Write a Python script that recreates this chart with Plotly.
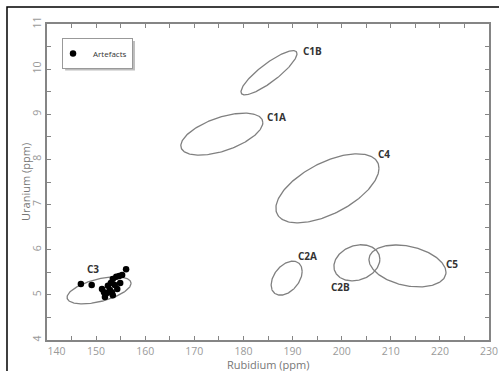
import numpy as np
import plotly.graph_objects as go

# Artefact measurements (Rb ppm, U ppm)
art_rb = [146.9, 149.1, 156.1, 151.2, 151.8, 152.2, 152.4, 152.8, 153.0, 153.2,
          153.4, 153.8, 154.1, 154.3, 154.7, 154.9, 155.3, 151.6, 153.4]
art_u = [5.24, 5.22, 5.57, 5.13, 4.95, 5.04, 5.20, 5.11, 5.26, 5.06,
         5.35, 5.22, 5.40, 5.13, 5.42, 5.26, 5.44, 5.06, 4.99]

# Source group ellipses: centre, half-ranges, correlation
groups = ["C1B", "C1A", "C4", "C2A", "C2B", "C5", "C3"]
grp_rb = [185.2, 175.6, 197.1, 188.8, 203.1, 213.4, 150.6]
grp_u = [9.92, 8.56, 7.36, 5.37, 5.71, 5.64, 5.10]
grp_rb_half = [5.7, 8.35, 10.5, 3.16, 4.68, 7.84, 6.52]
grp_u_half = [0.49, 0.465, 0.764, 0.377, 0.40, 0.465, 0.30]
grp_rho = [0.86, 0.55, 0.58, 0.40, 0.20, -0.30, 0.52]
label_rb = [194.0, 186.8, 208.6, 193.0, 199.7, 222.5, 149.4]
label_u = [10.40, 8.94, 8.12, 5.86, 5.17, 5.68, 5.57]

x_ticks = [140, 150, 160, 170, 180, 190, 200, 210, 220, 230]
y_ticks = [4, 5, 6, 7, 8, 9, 10, 11]
x_title = "Rubidium (ppm)"
y_title = "Uranium (ppm)"

fig = go.Figure()

t = np.linspace(0, 2 * np.pi, 200)
for name, cx, cy, rx, ry, rho in zip(groups, grp_rb, grp_u, grp_rb_half, grp_u_half, grp_rho):
    d = np.arccos(rho)
    fig.add_trace(go.Scatter(
        x=cx + rx * np.cos(t), y=cy + ry * np.cos(t - d),
        mode="lines", line=dict(color="#808080", width=1.3),
        showlegend=False, hoverinfo="skip", name=name))

fig.add_trace(go.Scatter(
    x=art_rb, y=art_u, mode="markers", name="Artefacts",
    marker=dict(color="black", size=6.5)))

for name, lx, ly in zip(groups, label_rb, label_u):
    fig.add_annotation(x=lx, y=ly, text="<b>%s</b>" % name, showarrow=False,
                       font=dict(family="Open Sans", size=10, color="#333333"))

# axis titles
title_font = dict(family="Open Sans", size=11, color="#777777")
fig.add_annotation(xref="paper", yref="paper", x=0.5, y=-0.079, text=x_title,
                   showarrow=False, xanchor="center", yanchor="middle", font=title_font)
fig.add_annotation(xref="paper", yref="paper", x=-0.05, y=0.5, text=y_title, textangle=-90,
                   showarrow=False, xanchor="center", yanchor="middle", font=title_font)

ticktext_x = ["\u00a0" * 7 + str(x_ticks[0])] + [str(v) for v in x_ticks[1:]]

axis_common = dict(showline=True, linecolor="#858585", linewidth=2, mirror="allticks",
                   ticks="inside", ticklen=4, tickcolor="#858585", tickwidth=1,
                   showgrid=False, zeroline=False, automargin=False,
                   tickfont=dict(family="Open Sans", size=10.5, color="#9a9a9a"))

fig.update_xaxes(range=[140, 230], tickvals=x_ticks, ticktext=ticktext_x,
                 minor=dict(dtick=5, ticks="inside", ticklen=4, tickcolor="#858585"),
                 **axis_common)
fig.update_yaxes(range=[4, 11], tickvals=y_ticks, tickangle=-90,
                 minor=dict(dtick=0.5, ticks="inside", ticklen=4, tickcolor="#858585"),
                 **axis_common)

# outer frame
fig.add_shape(type="rect", xref="paper", yref="paper", x0=-0.0905, x1=1.3, y0=-0.4, y1=1.0538,
              line=dict(color="black", width=1.5), layer="below")
# legend shadow
fig.add_shape(type="rect", xref="paper", yref="paper", x0=0.041, x1=0.199, y0=0.853, y1=0.946,
              line=dict(width=0), fillcolor="#bdbdbd", layer="above")

fig.update_layout(
    width=499, height=371,
    margin=dict(l=47, r=10, t=24, b=31),
    paper_bgcolor="white", plot_bgcolor="white",
    showlegend=True,
    legend=dict(x=0.034, y=0.956, xanchor="left", yanchor="top",
                bgcolor="white", bordercolor="#999999", borderwidth=1,
                font=dict(family="Open Sans", size=8, color="#333333"),
                itemwidth=30, tracegroupgap=0, indentation=-10),
)

fig.write_html("out.html", config={"displayModeBar": False},
               post_script="document.body.style.margin='0px';")
